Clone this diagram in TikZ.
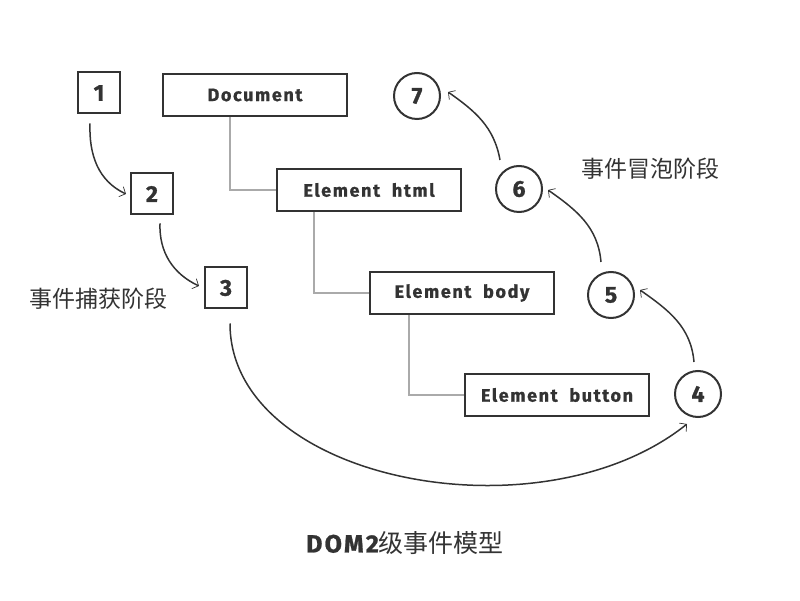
\documentclass[tikz,border=0pt]{standalone}
\usepackage{fontspec}
\setmainfont{Fira Sans}[BoldFeatures={FakeBold=1}]
\newfontfamily\lblfont[LetterSpace=9,BoldFeatures={FakeBold=1}]{Fira Sans}
\newfontfamily\cjk{Noto Sans CJK SC}
\usetikzlibrary{arrows.meta,calc}
\definecolor{ink}{HTML}{333333}
\definecolor{treegray}{HTML}{AAAAAA}
\tikzset{
  every node/.style={text=ink},
  numfont/.style={font=\bfseries\fontsize{23}{26}\selectfont},
  numbox/.style={numfont, draw=ink, line width=2pt, minimum width=42pt, minimum height=41pt, inner sep=0pt},
  elbox/.style={font=\lblfont\bfseries\fontsize{18}{21}\selectfont, draw=ink, line width=2pt, minimum width=184pt, minimum height=42pt, inner sep=0pt},
  numcirc/.style={numfont, circle, draw=ink, line width=2pt, minimum size=46pt, inner sep=0pt},
  treeline/.style={draw=treegray, line width=1.5pt},
  flow/.style={draw=ink, line width=1.5pt, -{Straight Barb[length=5pt,width=11pt,line width=0.7pt]}},
  cjklabel/.style={font=\cjk\fontsize{23}{26}\selectfont, text=ink},
}
\begin{document}
\begin{tikzpicture}[x=1pt,y=1pt]
\useasboundingbox (0,0) rectangle (800,600);
% squares
\node[numbox] (b1) at (99,507) {1};
\node[numbox] (b2) at (152,406) {2};
\node[numbox] (b3) at (226,312) {3};
% element boxes
\node[elbox] (doc) at (255,505) {Document};
\node[elbox] (html) at (369,410) {Element\ \ html};
\node[elbox] (body) at (462,307) {Element\ \ body};
\node[elbox] (button) at (557,205) {Element\ \ button};
% circles
\node[numcirc] (c7) at (417,504) {7};
\node[numcirc] (c6) at (519,411) {6};
\node[numcirc] (c5) at (611,305) {5};
\node[numcirc] (c4) at (698,206) {4};
% labels
\node[cjklabel] (bub) at (650,431) {事件冒泡阶段};
\node[cjklabel] (cap) at (98,301) {事件捕获阶段};
\node[font=\lblfont\bfseries\fontsize{25}{28}\selectfont] (title) at (405,57) {DOM2{\cjk\mdseries 级事件模型}};
% tree
\draw[treeline] ([xshift=-25pt]doc.south) |- (html.west);
\draw[treeline] ([xshift=-55pt]html.south) |- (body.west);
\draw[treeline] ([xshift=-53pt]body.south) |- (button.west);
% capture arrows
\draw[flow] ($(b1.south)+(-9,-9)$) to[out=-92,in=155] ($(b2.west)+(-4,0)$);
\draw[flow] ($(b2.south)+(8,-8)$) to[out=-92,in=155] ($(b3.west)+(-5,2)$);
\draw[flow] ($(b3.south)+(4,-14)$) .. controls +(0,-158) and +(-146,-117) .. ($(c4)+(-11,-30)$);
% bubble arrows
\draw[flow] ($(c4)+(-4,32)$) to[out=95,in=-35] ($(c5)+(29,5)$);
\draw[flow] ($(c5)+(-10,33)$) to[out=95,in=-35] ($(c6)+(29,-1)$);
\draw[flow] ($(c6)+(-19,29)$) to[out=100,in=-35] ($(c7)+(31,4)$);
\end{tikzpicture}
\end{document}
